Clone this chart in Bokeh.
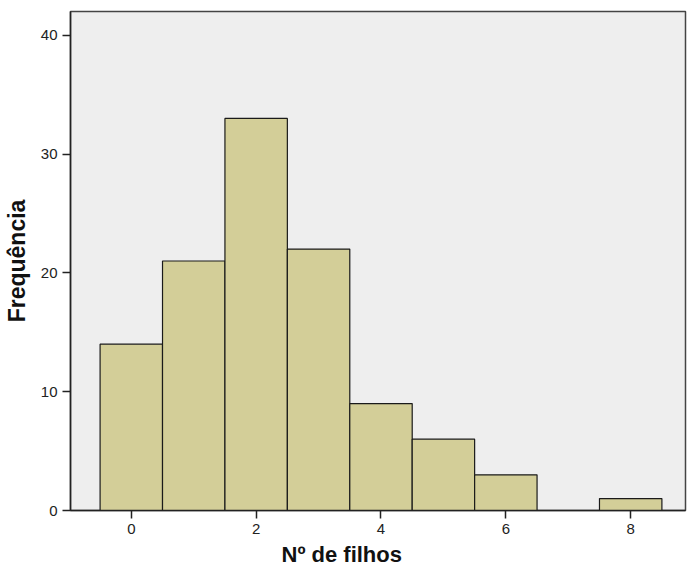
from bokeh.plotting import figure
from bokeh.models import Range1d, FixedTicker, ColumnDataSource, Title
from bokeh.embed import file_html
from bokeh.resources import INLINE

filhos = [0, 1, 2, 3, 4, 5, 6, 7, 8]
frequencia = [14, 21, 33, 22, 9, 6, 3, 0, 1]
x_ticks = [0, 2, 4, 6, 8]
y_ticks = [0, 10, 20, 30, 40]

src = ColumnDataSource(dict(x=filhos, top=frequencia))

p = figure(width=687, height=569, output_backend="svg", toolbar_location=None,
           x_range=Range1d(-0.974, 8.878), y_range=Range1d(0, 42),
           min_border_left=66, min_border_right=2, min_border_top=11, min_border_bottom=58)

p.background_fill_color = "#eeeeee"
p.border_fill_color = "white"
p.outline_line_color = "#444444"
p.outline_line_width = 1.5
p.xgrid.visible = False
p.ygrid.visible = False

p.vbar(x="x", top="top", width=1.0, bottom=0, source=src,
       fill_color="#d3ce98", line_color="#1a1a1a", line_width=1.2)

for ax in (p.xaxis[0], p.yaxis[0]):
    ax.axis_line_color = "#222222"
    ax.axis_line_width = 1.5
    ax.major_tick_line_color = "#222222"
    ax.major_tick_line_width = 1.5
    ax.major_tick_out = 8
    ax.major_tick_in = 0
    ax.minor_tick_line_color = None
    ax.major_label_text_font = "Liberation Sans"
    ax.major_label_text_font_size = "15px"
    ax.major_label_text_color = "#222222"
    ax.axis_label_text_font = "Liberation Sans"
    ax.axis_label_text_font_style = "bold"
    ax.axis_label_text_color = "#111111"

p.xaxis[0].major_label_standoff = 5
p.yaxis[0].major_label_standoff = 5
p.xaxis[0].ticker = FixedTicker(ticks=x_ticks)
p.yaxis[0].ticker = FixedTicker(ticks=y_ticks)
p.yaxis[0].axis_label = "Frequência"
p.yaxis[0].axis_label_text_font_size = "23px"
p.yaxis[0].axis_label_standoff = 8

p.add_layout(Title(text="Nº de filhos", align="left", offset=211, standoff=6,
                   text_font="Liberation Sans", text_font_size="22px",
                   text_font_style="bold", text_color="#111111"), "below")

open("out.html", "w").write(file_html(p, INLINE))
